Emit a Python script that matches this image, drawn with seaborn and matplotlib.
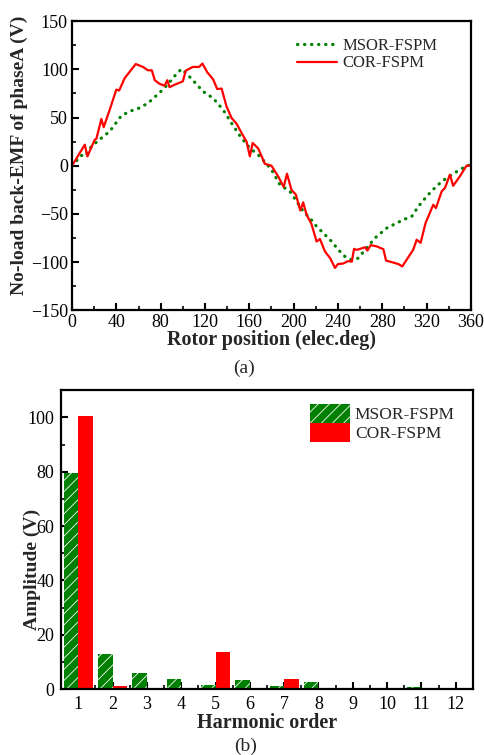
import numpy as np
import pandas as pd
import seaborn as sns
import matplotlib.pyplot as plt
from matplotlib.ticker import MultipleLocator

# back-EMF waveforms
cor_deg = [0, 11.5, 13.9, 20.5, 22, 26.5, 28.6, 34, 40, 42.5, 47.6, 57.5, 64, 68.5, 72, 74.7, 79, 83.5, 86, 88,
           92.5, 100, 102.6, 109, 114.7, 117.7, 122, 127.4, 131, 135, 139.4, 144, 148.5, 154, 157.5, 160.5, 163, 168, 174, 180,
           186, 191, 194, 198, 202, 206, 208.6, 211.7, 216, 220.7, 223.7, 228.3, 233, 237.3, 240, 244.7, 249, 252.5, 254.5, 257,
           264.4, 266.6, 269.5, 275, 281, 283.4, 290, 294.5, 298, 302, 308, 311, 314.6, 319, 326, 328.4, 333.6, 336.6, 341, 344,
           350, 356, 360]
cor_emf = [0, 21.8, 9.7, 27, 28, 48.5, 40, 58, 79, 78, 91, 105.5, 102.5, 99, 99, 88.7, 85, 83, 88.7, 81.5,
           84, 87.5, 98.6, 102.5, 102.5, 106, 97, 89.5, 79.6, 80, 61.6, 49.5, 43.6, 32, 25, 9.7, 23.6, 18, 2, 0,
           -11, -22, -8.3, -25, -30, -46.4, -38, -51, -60.2, -78.6, -76, -89, -96, -106, -102, -101.5, -99, -99.5, -86.3, -87.3,
           -84.6, -88, -82.4, -83.7, -86.6, -98.4, -100.5, -102, -104.5, -97.5, -87, -76.8, -80, -59.6, -40.5, -44, -26.6, -23, -9.3, -20.8,
           -11, 0, 0]

msor_deg = [0, 8.4, 11.5, 17.5, 26.5, 34, 44.6, 52, 61, 68.6, 74.7, 82, 88, 93.7, 98.8, 104.3, 110.8, 118.3, 127.4, 136.4,
            144, 153, 160.5, 169.5, 180, 187.6, 196.6, 202.7, 208.7, 214.7, 220.7, 228.3, 234.3, 240.3, 246.3, 252.4, 258.4, 264.4, 273.4, 284,
            293, 299, 306.6, 312.6, 320, 326, 333.6, 341, 350, 357.5, 360]
msor_emf = [0, 10.7, 9.7, 20, 28.7, 35.6, 52, 56.4, 60, 65, 71.3, 79, 86.5, 94.5, 100.4, 94.5, 86.5, 77, 70, 58,
            44, 28.6, 18.3, 9.7, -4, -19.7, -26.6, -37, -47.4, -54.3, -63, -71.6, -78.6, -87.2, -94.2, -97.6, -95.9, -87.2, -75, -64.7,
            -59.5, -56, -52.6, -42.2, -31.9, -24.6, -16.3, -10.6, -4, 0.4, 0]

# harmonic spectrum
harmonics = list(range(1, 13))
msor_amp = [79.5, 13, 6, 3.8, 1.5, 3.4, 1, 2.6, 0, 0.5, 0.6, 0]
cor_amp = [100.5, 1, 0, 0.5, 13.8, 0.5, 3.7, 0, 0, 0, 0.5, 0]

sns.set_style("ticks")
plt.rcParams['font.family'] = ['Liberation Serif', 'DejaVu Serif']
plt.rcParams['hatch.linewidth'] = 0.6

green = '#008000'
red = '#ff0000'

fig = plt.figure(figsize=(4.85, 7.55), dpi=100)
ax1 = fig.add_axes([0.1485, 0.589, 0.8225, 0.383])
ax2 = fig.add_axes([0.126, 0.0874, 0.849, 0.3956])

# (a) waveforms
sns.lineplot(x=msor_deg, y=msor_emf, ax=ax1, color=green, linestyle=(0, (0.1, 2.1)),
             linewidth=2.3, dash_capstyle='round', label='MSOR-FSPM')
sns.lineplot(x=cor_deg, y=cor_emf, ax=ax1, color=red, linewidth=1.6, label='COR-FSPM')
ax1.set_xlim(0, 360)
ax1.set_ylim(-150, 150)
ax1.xaxis.set_major_locator(MultipleLocator(40))
ax1.xaxis.set_minor_locator(MultipleLocator(20))
ax1.yaxis.set_major_locator(MultipleLocator(50))
ax1.yaxis.set_minor_locator(MultipleLocator(25))
ax1.set_xlabel('Rotor position (elec.deg)', fontsize=14.5, fontweight='bold', labelpad=-1)
ax1.set_ylabel('No-load back-EMF of phaseA (V)', fontsize=14, fontweight='bold')
ax1.yaxis.set_label_coords(-0.11, 0.535)
ax1.legend(loc='upper right', bbox_to_anchor=(0.957, 1.0), frameon=False, fontsize=12,
           handlelength=2.4, borderaxespad=0.6, labelspacing=0.1, handletextpad=0.3)

# (b) spectrum
df = pd.DataFrame({
    'order': harmonics * 2,
    'amp': msor_amp + cor_amp,
    'model': ['MSOR-FSPM'] * 12 + ['COR-FSPM'] * 12,
})
sns.barplot(data=df, x='order', y='amp', hue='model', ax=ax2, palette=[green, red],
            width=0.84, gap=0, saturation=1, legend=False)
for bar in ax2.containers[0]:
    bar.set_hatch('///')
    bar.set_edgecolor('white')
    bar.set_linewidth(0)
for bar in ax2.containers[1]:
    bar.set_linewidth(0)
ax2.set_xlim(-0.5, 11.5)
ax2.set_ylim(0, 110)
ax2.xaxis.set_minor_locator(MultipleLocator(0.5))
ax2.yaxis.set_major_locator(MultipleLocator(20))
ax2.yaxis.set_minor_locator(MultipleLocator(10))
ax2.set_xlabel('Harmonic order', fontsize=14.5, fontweight='bold', labelpad=0)
ax2.set_ylabel('Amplitude (V)', fontsize=14, fontweight='bold')
ax2.yaxis.set_label_coords(-0.05, 0.4)
ax2.legend(handles=[ax2.containers[0][0], ax2.containers[1][0]],
           labels=['MSOR-FSPM', 'COR-FSPM'], loc='upper right', bbox_to_anchor=(0.99, 1.0),
           frameon=False, fontsize=12.5, handlelength=2.3, handleheight=1.25,
           borderaxespad=0.4, labelspacing=0.0, handletextpad=0.3)

for ax in (ax1, ax2):
    for s in ax.spines.values():
        s.set_linewidth(1.6)
        s.set_color('black')
    ax.tick_params(which='both', direction='in', top=False, right=False,
                   labelsize=13, colors='black', pad=3)
    ax.tick_params(which='major', length=5, width=1.5)
    ax.tick_params(which='minor', length=3, width=1.2)
ax2.tick_params(axis='x', which='both', pad=5)
ax2.tick_params(axis='y', which='both', pad=5)

fig.text(244 / 485, 1 - 368 / 755, '(a)', ha='center', va='center', fontsize=14)
fig.text(246 / 485, 1 - 746 / 755, '(b)', ha='center', va='center', fontsize=14)

fig.savefig('out.png', dpi=100)
